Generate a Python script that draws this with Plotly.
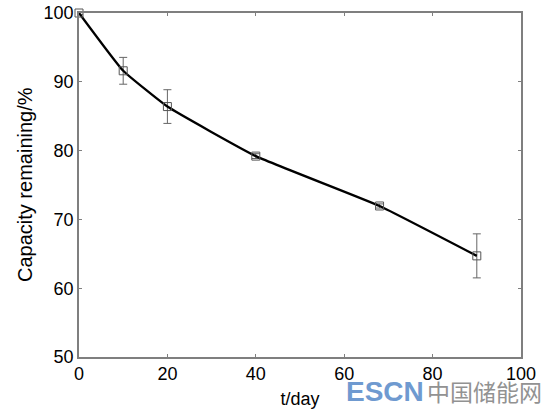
import plotly.graph_objects as go

# capacity retention over storage time
days = [0, 10, 20, 40, 68, 90]
capacity = [100, 91.6, 86.4, 79.2, 71.95, 64.7]
error = [0.2, 1.95, 2.45, 0.35, 0.3, 3.2]

x_ticks = [0, 20, 40, 60, 80, 100]
y_ticks = [50, 60, 70, 80, 90, 100]

axis_color = '#7f7f7f'

fig = go.Figure()

fig.add_trace(go.Scatter(
    x=days,
    y=capacity,
    mode='lines+markers',
    line=dict(color='black', width=2.3, shape='spline', smoothing=0.35),
    marker=dict(symbol='square-open', size=8, color='#555555', line=dict(width=1)),
    error_y=dict(type='data', array=error, visible=True,
                 color='#666666', thickness=1, width=4),
    cliponaxis=False,
    showlegend=False
))

fig.update_layout(
    width=552,
    height=409,
    margin=dict(l=79, r=31, t=13, b=52),
    paper_bgcolor='white',
    plot_bgcolor='white',
    font=dict(family='Liberation Sans, Arial, sans-serif', size=18, color='black'),
    xaxis=dict(
        range=[0, 100], tickvals=x_ticks, showgrid=False, zeroline=False,
        showline=True, linecolor=axis_color, linewidth=1.5, mirror='ticks',
        ticks='inside', ticklen=3, tickcolor=axis_color, automargin=False,
        title=dict(text='t/day', font=dict(size=18))
    ),
    yaxis=dict(
        range=[50, 100], tickvals=y_ticks, showgrid=False, zeroline=False,
        showline=True, linecolor=axis_color, linewidth=1.5, mirror='ticks',
        ticks='inside', ticklen=3, tickcolor=axis_color, automargin=False
    ),
    annotations=[
        # y title as annotation so it can sit a bit closer to the ticks
        dict(text='Capacity remaining/%', xref='paper', yref='paper', x=0, y=0.5,
             xshift=-54, xanchor='center', yanchor='middle', textangle=-90,
             showarrow=False, font=dict(size=20)),
        # watermark
        dict(text='<b>ESCN</b>', xref='paper', yref='paper', x=0.6, y=-0.1,
             xanchor='left', yanchor='middle', showarrow=False,
             font=dict(family='Liberation Sans, Arial, sans-serif', size=28, color='#6f9ad0')),
        dict(text='中国储能网', xref='paper', yref='paper', x=1.052, y=-0.1,
             xanchor='right', yanchor='middle', showarrow=False,
             font=dict(family='Noto Sans CJK SC', size=23, color='#929292')),
    ]
)

# drop the default body margin so the figure sits at the window corner
fig.write_html("out.html", config={'displayModeBar': False},
               post_script="document.body.style.margin='0';")
